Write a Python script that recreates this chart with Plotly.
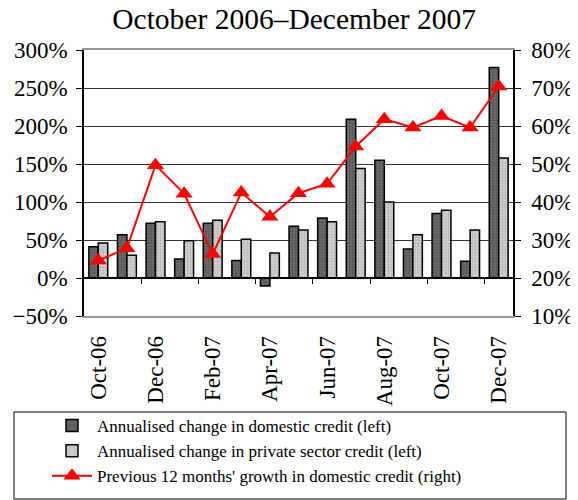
import plotly.graph_objects as go

months = ["Oct-06", "Nov-06", "Dec-06", "Jan-07", "Feb-07", "Mar-07", "Apr-07",
          "May-07", "Jun-07", "Jul-07", "Aug-07", "Sep-07", "Oct-07", "Nov-07", "Dec-07"]

# annualised changes, % (left axis)
domestic_credit = [41, 57, 72, 25, 72, 23, -10.5, 68, 79, 209, 155, 38, 85, 22, 277]
private_credit = [46, 30, 74, 49, 76, 51, 33, 63, 74, 144, 100, 57, 89, 63, 158]

# previous 12 months growth, % (right axis)
growth_12m = [24.6, 27.8, 49.7, 42.2, 26.3, 42.5, 36.1, 42.3, 44.8, 54.6, 61.8, 59.6, 62.6, 59.6, 70.4]

x_idx = list(range(len(months)))
serif = "Liberation Serif, Times New Roman, serif"

fig = go.Figure()

fig.add_trace(go.Bar(
    x=x_idx, y=domestic_credit,
    name="Annualised change in domestic credit (left)",
    marker=dict(color="#6a6a6a", line=dict(color="black", width=1.5),
                pattern=dict(shape=".", fgcolor="#3a3a3a", bgcolor="#6a6a6a",
                             size=3, solidity=0.4)),
))
fig.add_trace(go.Bar(
    x=x_idx, y=private_credit,
    name="Annualised change in private sector credit (left)",
    marker=dict(color="#c8c8c8", line=dict(color="black", width=1.5),
                pattern=dict(shape=".", fgcolor="#999999", bgcolor="#d0d0d0",
                             size=3, solidity=0.4)),
))
fig.add_trace(go.Scatter(
    x=x_idx, y=growth_12m,
    name="Previous 12 months' growth in domestic credit (right)",
    mode="lines+markers",
    line=dict(color="#ff0000", width=2),
    marker=dict(symbol="triangle-up", size=15, color="#ff0000"),
    xaxis="x2", yaxis="y2",
))

# legend frame (paper coords relative to the 429x266 plot area)
fig.add_shape(type="rect", xref="paper", yref="paper",
              x0=(14 - 84) / 429, x1=(566 - 84) / 429,
              y0=(316 - 499) / 266, y1=(316 - 412) / 266,
              line=dict(color="black", width=1))

# page has an 8px body margin, so the figure is 8px smaller each way
fig.update_layout(
    width=570, height=492,
    margin=dict(l=76, r=65, t=42, b=184, autoexpand=False),
    paper_bgcolor="white", plot_bgcolor="white",
    font=dict(family=serif, color="black", size=17),
    title=dict(text="October 2006\u2013December 2007", x=0.502, xanchor="center",
               y=0.978, yanchor="middle", font=dict(size=29.5, family=serif)),
    barmode="group", bargap=0.34, bargroupgap=0,
    showlegend=True,
    legend=dict(x=(47 - 84) / 429, xanchor="left", y=(316 - 408) / 266, yanchor="top",
                bgcolor="rgba(0,0,0,0)", borderwidth=0, font=dict(size=17, family=serif),
                tracegroupgap=0, itemwidth=40),
    xaxis=dict(
        range=[-0.5, len(months) - 0.5], automargin=False,
        tickvals=x_idx[::2], ticktext=months[::2], tickangle=-90,
        ticks="", showgrid=False, zeroline=False, ticklabelstandoff=9,
        showline=True, linecolor="#999999", linewidth=1.5, mirror=True,
        tickfont=dict(size=23, family=serif),
    ),
    xaxis2=dict(
        overlaying="x", anchor="free", position=1 / 7, automargin=False,
        range=[-0.5, len(months) - 0.5],
        tickvals=[i + 1.5 for i in x_idx[:-1:2]],
        ticks="outside", ticklen=5, tickcolor="black", showticklabels=False,
        showline=True, linecolor="black", linewidth=1.5, showgrid=False, zeroline=False,
    ),
    yaxis=dict(
        range=[-50, 300], dtick=50, ticksuffix="%", automargin=False,
        showgrid=True, gridcolor="#333333", gridwidth=1, zeroline=False,
        showline=True, linecolor="black", linewidth=1.5,
        ticks="outside", ticklen=6, tickcolor="black", ticklabelstandoff=4,
        tickfont=dict(size=23, family=serif),
    ),
    yaxis2=dict(
        overlaying="y", side="right", anchor="x2", automargin=False,
        range=[10, 80], dtick=10, ticksuffix="%",
        showgrid=False, zeroline=False,
        showline=True, linecolor="black", linewidth=1.5,
        ticks="outside", ticklen=6, tickcolor="black", ticklabelstandoff=6,
        tickfont=dict(size=23, family=serif),
    ),
)

fig.write_html("out.html")
